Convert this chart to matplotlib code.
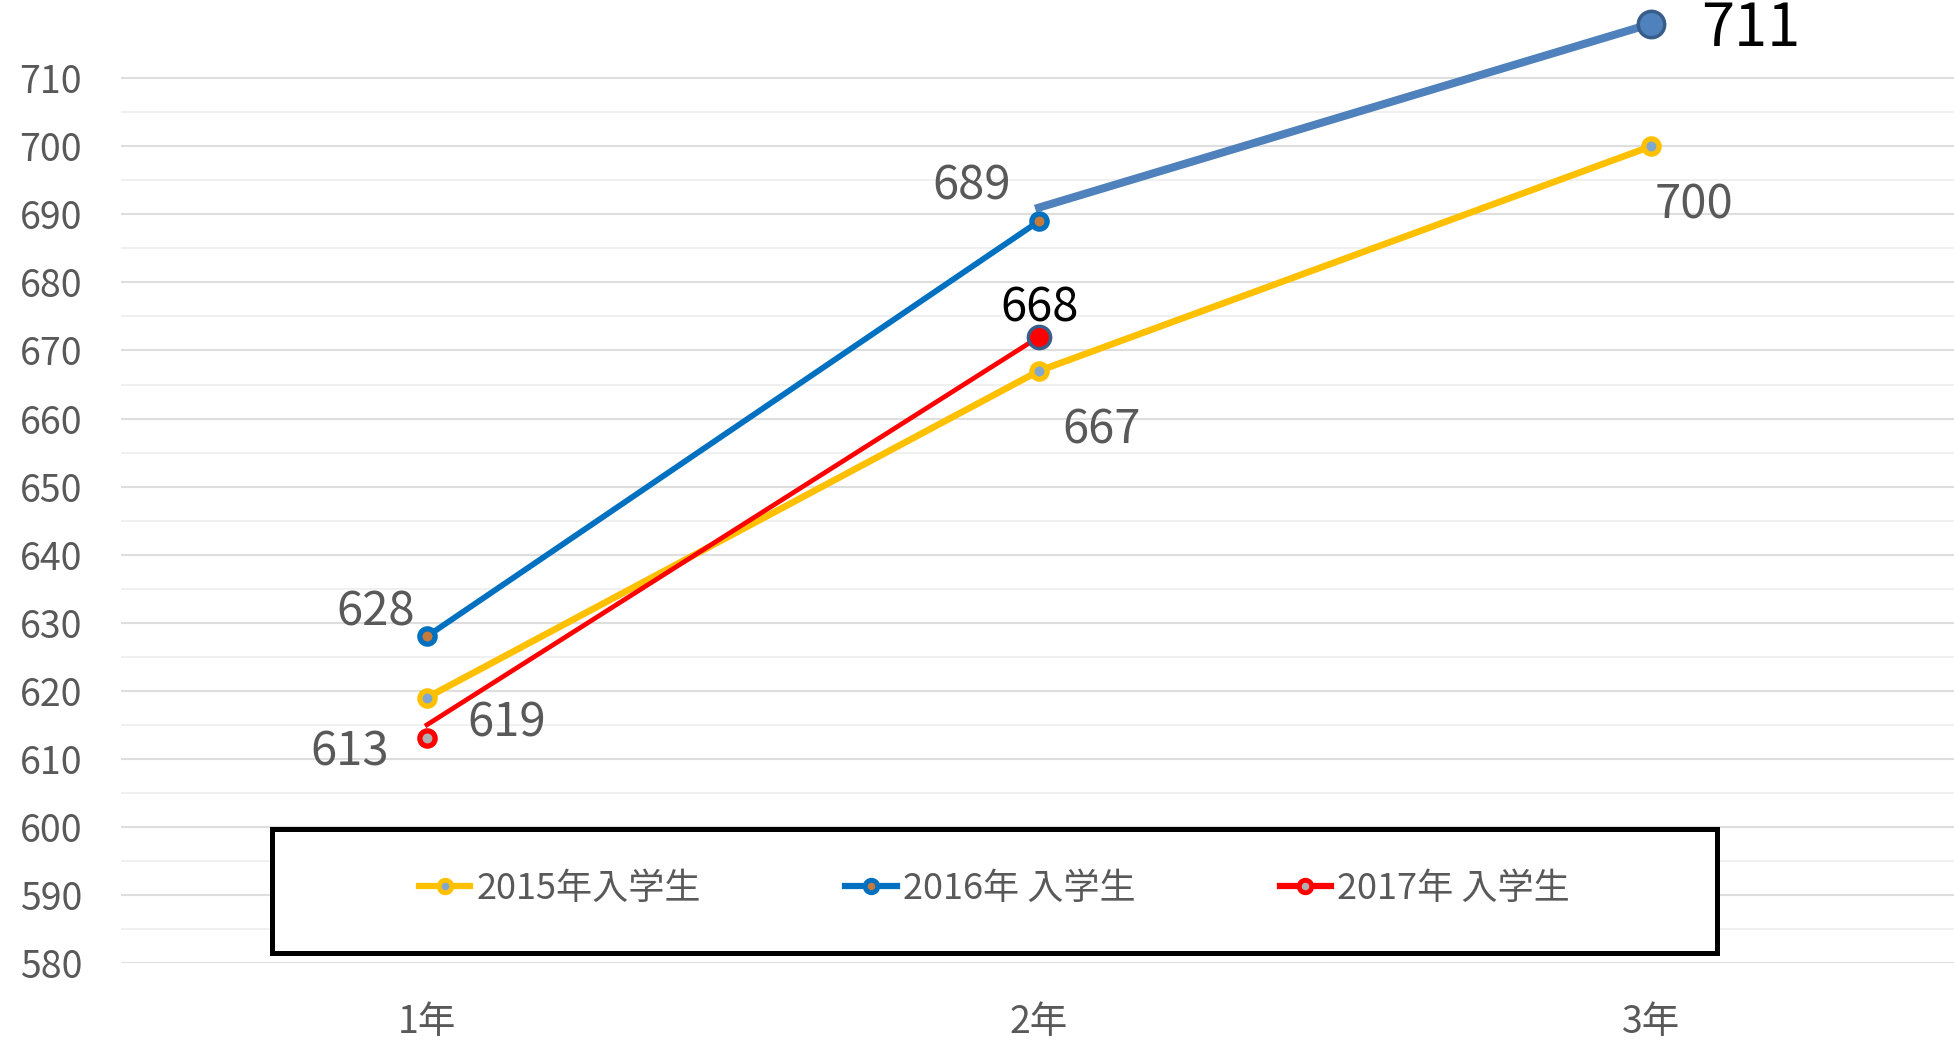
import matplotlib
matplotlib.use("Agg")
import matplotlib.pyplot as plt
from matplotlib.lines import Line2D
from matplotlib.patches import Rectangle
from matplotlib.ticker import FixedLocator

plt.rcParams['font.family'] = ['Noto Sans CJK JP', 'DejaVu Sans']

# データ
grades = ['1年', '2年', '3年']
y2015 = [619, 667, 700]
y2016 = [628, 689]
y2016_ext = [691, 718]      # 2年→3年 の後から描き足した線
y2017_line = [615, 672]
y2017_mark1 = 613
y2017_mark2 = 672
labels_2015 = ['619', '667', '700']
labels_2016 = ['628', '689']
label_711 = '711'
labels_2017 = ['613', '668']
series_names = ['2015年入学生', '2016年 入学生', '2017年 入学生']

yticks = list(range(580, 711, 10))

GRAY = '#595959'
YELLOW = '#FFC000'
BLUE = '#0070C0'
RED = '#FF0000'
BLUE2 = '#4F81BD'
BLUE2_EDGE = '#385D8A'

fig = plt.figure(figsize=(19.54, 10.41), dpi=100)
ax = fig.add_axes([121 / 1954, 78 / 1041, 1836 / 1954, 963 / 1041])

x = [1, 2, 3]

ax.plot(x, y2015, color=YELLOW, lw=4.8, marker='o', ms=11, mew=3.8,
        mec=YELLOW, mfc='#7fa7cf', zorder=3)
ax.plot(x[:2], y2016, color=BLUE, lw=4.2, marker='o', ms=11, mew=3.8,
        mec=BLUE, mfc='#c87a3a', zorder=4)
ax.plot(x[:2], y2017_line, color=RED, lw=3.4, zorder=5)
ax.plot([x[0]], [y2017_mark1], ls='none', marker='o', ms=11, mew=3.8,
        mec=RED, mfc='#b0b0b0', zorder=5)
ax.plot([x[1]], [y2017_mark2], ls='none', marker='o', ms=16, mew=2.5,
        mec=BLUE2_EDGE, mfc=RED, zorder=6)
ax.plot(x[1:], y2016_ext, color=BLUE2, lw=5.8, zorder=4)
ax.plot([x[2]], [y2016_ext[1]], ls='none', marker='o', ms=19, mew=2.5,
        mec=BLUE2_EDGE, mfc=BLUE2, zorder=6)

# データラベル
def lab(text, xv, yv, dx, dy, ha, color=GRAY, size=34):
    ax.annotate(text, (xv, yv), xytext=(dx, dy), textcoords='offset pixels',
                ha=ha, va='center', color=color, fontsize=size, zorder=7)

lab(labels_2016[0], 1, y2016[0], -12, 24, 'right')
lab(labels_2015[0], 1, y2015[0], 40, -26, 'left')
lab(labels_2017[0], 1, y2017_mark1, -38, -14, 'right')
lab(labels_2016[1], 2, y2016[1], -28, 35, 'right')
lab(labels_2017[1], 2, y2017_mark2, 1, 29, 'center', color='black')
lab(labels_2015[1], 2, y2015[1], 23, -59, 'left')
lab(labels_2015[2], 3, y2015[2], 4, -59, 'left')
lab(label_711, 3, y2016_ext[1], 50, -6, 'left', color='black', size=43)

ax.set_xlim(0.5, 3.5)
ax.set_ylim(580, 721.5)
ax.set_xticks(x)
ax.set_xticklabels(grades)
ax.yaxis.set_major_locator(FixedLocator(yticks))
ax.yaxis.set_minor_locator(FixedLocator(list(range(585, 706, 10))))
ax.grid(axis='y', which='major', color='#dedede', lw=1.5, zorder=0)
ax.grid(axis='y', which='minor', color='#efefef', lw=1.3, zorder=0)
for s in ax.spines.values():
    s.set_visible(False)
ax.tick_params(axis='both', which='both', length=0, colors=GRAY, labelsize=27)
ax.tick_params(axis='y', pad=28)
ax.tick_params(axis='x', pad=29)

# 凡例
box = Rectangle((151 / 1836, 10 / 963), 1445 / 1836, 124 / 963,
                transform=ax.transAxes, facecolor='white', edgecolor='black',
                lw=3.6, zorder=8, clip_on=False)
ax.add_patch(box)
handles = [
    Line2D([], [], color=YELLOW, lw=4.5, marker='o', ms=9, mew=3.5, mec=YELLOW, mfc='#7fa7cf'),
    Line2D([], [], color=BLUE, lw=4.5, marker='o', ms=9, mew=3.5, mec=BLUE, mfc='#c87a3a'),
    Line2D([], [], color=RED, lw=4.5, marker='o', ms=9, mew=3.5, mec=RED, mfc='#b0b0b0'),
]
leg = ax.legend(handles, series_names, ncol=3, frameon=False, loc='center',
                bbox_to_anchor=(873.5 / 1836, 74.5 / 963), fontsize=26,
                handlelength=1.42, handletextpad=0.17, columnspacing=4.0,
                labelcolor=GRAY)
leg.set_zorder(9)

fig.savefig('out.png', dpi=100)
